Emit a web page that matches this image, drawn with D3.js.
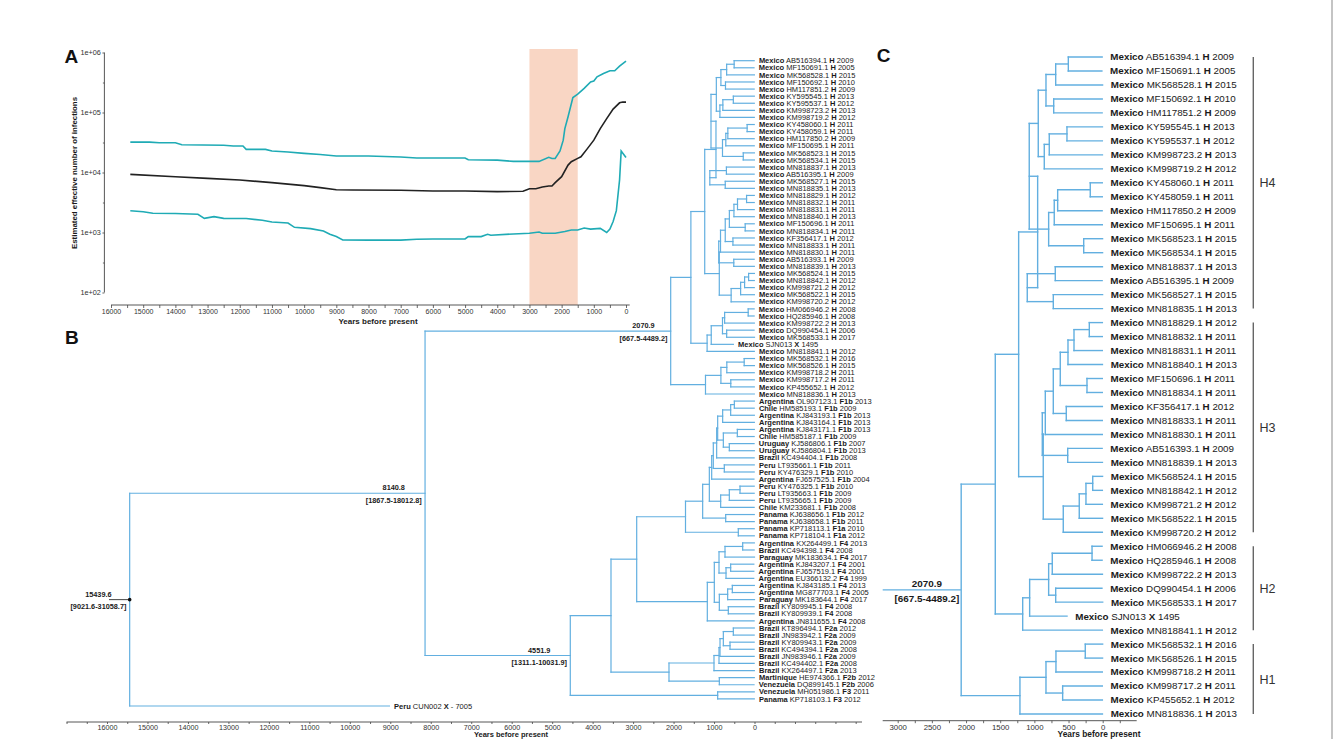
<!DOCTYPE html>
<html><head><meta charset="utf-8">
<script src="https://cdn.jsdelivr.net/npm/d3@7"></script>
<style>
body{margin:0;background:#fff}
svg{display:block;font-family:"Liberation Sans",Arial,Helvetica,sans-serif}
text{white-space:pre}
</style>
</head><body>
<svg id="chart" width="1336" height="739"></svg>
<script>
// ---------- Panel A: skyline (years before present, effective number of infections)
const medianYears = [15400,14000,13000,12000,11000,10000,9500,9000,8500,7000,6000,5000,4000,3200,3000,2800,2600,2400,2300,2200,2000,1800,1700,1500,1400,1200,1000,800,600,400,200,100,0];
const medianValues = [9310,8520,7990,7500,6770,6040,5590,5170,5100,5050,4930,4930,4800,4870,5370,5370,5730,5960,5960,6770,8520,13300,15100,17200,18300,25000,34600,54000,79000,114000,145000,150000,149000];
const upperYears = [15400,14800,14500,14000,13800,12500,12200,11900,11800,11200,11000,10500,10000,9500,9000,8000,7000,6500,5000,4900,4000,3500,3000,2700,2400,2300,2200,2050,1950,1900,1800,1650,1500,1300,1100,1000,900,700,500,350,200,0];
const upperValues = [32100,32100,31300,31300,29000,28400,27600,27600,24300,24300,22800,21900,20800,19900,18800,18800,18100,17400,17400,16300,16100,15300,15300,15300,17900,17100,17100,22800,34600,53900,85100,178000,202000,252000,324000,334000,393000,447000,496000,496000,592000,718000];
const lowerYears = [15400,15000,14700,14000,13300,13100,12800,12500,11800,11300,11000,10500,10300,9800,9400,9200,9000,8800,8000,7000,6500,6000,5000,4900,4500,4300,4200,3500,3000,2700,2600,2200,1900,1700,1500,1300,1100,800,600,500,400,300,200,150,0];
const lowerValues = [2310,2220,2090,2070,2010,1720,1840,1720,1710,1600,1500,1440,1220,1160,1060,934,855,752,745,745,771,780,780,855,855,934,900,946,970,1020,970,970,1040,1100,1100,1190,1140,1170,1000,1140,1520,2310,7500,22800,17800];
const shadeYears = [3000,1500];
const yTickValues = [1e2,1e3,1e4,1e5,1e6];

// ---------- Tips (country, accession, genotype, sampling year)
const tips = [
["Mexico","AB516394.1","H",2009],["Mexico","MF150691.1","H",2005],["Mexico","MK568528.1","H",2015],
["Mexico","MF150692.1","H",2010],["Mexico","HM117851.2","H",2009],["Mexico","KY595545.1","H",2013],
["Mexico","KY595537.1","H",2012],["Mexico","KM998723.2","H",2013],["Mexico","KM998719.2","H",2012],
["Mexico","KY458060.1","H",2011],["Mexico","KY458059.1","H",2011],["Mexico","HM117850.2","H",2009],
["Mexico","MF150695.1","H",2011],["Mexico","MK568523.1","H",2015],["Mexico","MK568534.1","H",2015],
["Mexico","MN818837.1","H",2013],["Mexico","AB516395.1","H",2009],["Mexico","MK568527.1","H",2015],
["Mexico","MN818835.1","H",2013],["Mexico","MN818829.1","H",2012],["Mexico","MN818832.1","H",2011],
["Mexico","MN818831.1","H",2011],["Mexico","MN818840.1","H",2013],["Mexico","MF150696.1","H",2011],
["Mexico","MN818834.1","H",2011],["Mexico","KF356417.1","H",2012],["Mexico","MN818833.1","H",2011],
["Mexico","MN818830.1","H",2011],["Mexico","AB516393.1","H",2009],["Mexico","MN818839.1","H",2013],
["Mexico","MK568524.1","H",2015],["Mexico","MN818842.1","H",2012],["Mexico","KM998721.2","H",2012],
["Mexico","MK568522.1","H",2015],["Mexico","KM998720.2","H",2012],["Mexico","HM066946.2","H",2008],
["Mexico","HQ285946.1","H",2008],["Mexico","KM998722.2","H",2013],["Mexico","DQ990454.1","H",2006],
["Mexico","MK568533.1","H",2017],["Mexico","SJN013","X",1495],["Mexico","MN818841.1","H",2012],
["Mexico","MK568532.1","H",2016],["Mexico","MK568526.1","H",2015],["Mexico","KM998718.2","H",2011],
["Mexico","KM998717.2","H",2011],["Mexico","KP455652.1","H",2012],["Mexico","MN818836.1","H",2013],
["Argentina","OL907123.1","F1b",2013],["Chile","HM585193.1","F1b",2009],["Argentina","KJ843193.1","F1b",2013],
["Argentina","KJ843164.1","F1b",2013],["Argentina","KJ843171.1","F1b",2013],["Chile","HM585187.1","F1b",2009],
["Uruguay","KJ586806.1","F1b",2007],["Uruguay","KJ586804.1","F1b",2013],["Brazil","KC494404.1","F1b",2008],
["Peru","LT935661.1","F1b",2011],["Peru","KY476329.1","F1b",2010],["Argentina","FJ657525.1","F1b",2004],
["Peru","KY476325.1","F1b",2010],["Peru","LT935663.1","F1b",2009],["Peru","LT935665.1","F1b",2009],
["Chile","KM233681.1","F1b",2008],["Panama","KJ638656.1","F1b",2012],["Panama","KJ638658.1","F1b",2011],
["Panama","KP718113.1","F1a",2010],["Panama","KP718104.1","F1a",2012],["Argentina","KX264499.1","F4",2013],
["Brazil","KC494398.1","F4",2008],["Paraguay","MK183634.1","F4",2017],["Argentina","KJ843207.1","F4",2001],
["Argentina","FJ657519.1","F4",2001],["Argentina","EU366132.2","F4",1999],["Argentina","KJ843185.1","F4",2013],
["Argentina","MG877703.1","F4",2005],["Paraguay","MK183644.1","F4",2017],["Brazil","KY809945.1","F4",2008],
["Brazil","KY809939.1","F4",2008],["Argentina","JN811655.1","F4",2008],["Brazil","KT896494.1","F2a",2012],
["Brazil","JN983942.1","F2a",2009],["Brazil","KY809943.1","F2a",2009],["Brazil","KC494394.1","F2a",2008],
["Brazil","JN983946.1","F2a",2009],["Brazil","KC494402.1","F2a",2008],["Brazil","KX264497.1","F2a",2013],
["Martinique","HE974366.1","F2b",2012],["Venezuela","DQ899145.1","F2b",2006],["Venezuela","MH051986.1","F3",2011],
["Panama","KP718103.1","F3",2012],["Peru","CUN002","X",-7005]
];
const presentYear = 2017;

// ---------- Tree topology (tip numbers, internal node ages in years before present)
const cladeH4 = "((((((1,2)503,3)688,(4,5)717)830,(((6,7)523,8)782,9)855)943,((((10,11)182,12)659,13)709,(14,15)278)791)1075,((16,17)694,(18,19)723)1104)952";
const cladeH3 = "((((((((20,21)196,22)420,23)508,(24,25)230)621,(26,27)533)723,28)840,(29,30)512)884,((((31,32)146,33)245,34)343,35)577)870";
const cladeH2 = "(((((36,37)156,38)738,(39,40)688)791,41)1069,42)1171";
const cladeH1 = "((((43,44)255,45)684,(46,47)586)830,48)1211";
const cladeMexico = "(((" + cladeH4 + "," + cladeH3 + ")1230," + cladeH2 + ")1572," + cladeH1 + ")2070.9";
const cladeF1b = "(((((((((49,50)498,51)589,52)787,((53,54)424,(55,56)622)770)910,57)935,(58,59)746)1018,60)1058,(((61,62)358,63)622,64)836)1116,(65,66)712)1281";
const cladeF1 = "(" + cladeF1b + ",(67,68)400)1705";
const cladeF4 = "(((((69,70)292,71)729,((72,73)589,74)704)877,(((75,76)548,77)663,(78,79)647)869)993,80)1166";
const cladeF2 = "((((((81,82)523,(83,84)605)770,85)852,86)877,87)1001,(88,89)869)2113";
const cladeF3 = "(90,91)910";
const cladeSouth = "(((" + cladeF1 + "," + cladeF4 + ")2911," + cladeF2 + ")3546," + cladeF3 + ")4551.9";
const newickFull = "((" + cladeMexico + "," + cladeSouth + ")8140.8,92)15439.6";

const hpdAges = [15439.6, 8140.8, 4551.9, 2070.9];
const hpdTexts = ["[9021.6-31058.7]","[1867.5-18012.8]","[1311.1-10031.9]","[667.5-4489.2]"];

const groupNames = ["H4","H3","H2","H1"];
const groupFirst = [1,20,36,43];
const groupLast = [19,35,42,48];

// ---------- helpers
function parseNewick(s){
  let i = 0;
  function node(){
    if (s[i] === "("){
      i++;
      const ch = [node()];
      while (s[i] === ","){ i++; ch.push(node()); }
      i++;
      let num = "";
      while (i < s.length && /[0-9.]/.test(s[i])) num += s[i++];
      return {children: ch, age: +num};
    }
    let num = "";
    while (i < s.length && /[0-9]/.test(s[i])) num += s[i++];
    const tip = +num - 1;
    return {tip: tip, age: presentYear - tips[tip][3]};
  }
  return node();
}
function layout(n, yOf){
  if (n.children){
    n.children.forEach(c => layout(c, yOf));
    n.y = (n.children[0].y + n.children[n.children.length-1].y) / 2;
  } else n.y = yOf(n.tip);
}
function leaves(n, out=[]){ if (n.children) n.children.forEach(c=>leaves(c,out)); else out.push(n); return out; }
function internals(n, out=[]){ if (n.children){ out.push(n); n.children.forEach(c=>internals(c,out)); } return out; }

const treeColor = "#62afe0";
function drawTree(g, root, xS, w){
  const segs = [];
  (function walk(n){
    if (!n.children) return;
    const x = xS(n.age);
    segs.push([x, n.children[0].y, x, n.children[n.children.length-1].y]);
    n.children.forEach(c => { segs.push([x, c.y, xS(c.age), c.y]); walk(c); });
  })(root);
  g.selectAll(null).data(segs).join("line")
    .attr("x1", d=>d[0]).attr("y1", d=>d[1]).attr("x2", d=>d[2]).attr("y2", d=>d[3])
    .attr("stroke", treeColor).attr("stroke-width", w).attr("stroke-linecap","square");
}
function yearText(y){ return y < 0 ? "- " + (-y) : String(y); }
function drawTipLabels(g, root, xS, fs, off){
  const lv = leaves(root);
  const t = g.selectAll(null).data(lv).join("text")
    .attr("x", d => xS(d.age) + off).attr("y", d => d.y).attr("dy","0.35em")
    .attr("font-size", fs).attr("fill","#1a1a1a");
  t.append("tspan").attr("font-weight","bold").text(d => tips[d.tip][0]);
  t.append("tspan").text(d => " " + tips[d.tip][1] + " ");
  t.append("tspan").attr("font-weight","bold").text(d => tips[d.tip][2]);
  t.append("tspan").text(d => " " + yearText(tips[d.tip][3]));
}
function drawNodeLabels(g, root, xS, fs, gap, upOff, downOff){
  internals(root).forEach(n => {
    const k = hpdAges.indexOf(n.age);
    if (k < 0) return;
    const x = xS(n.age) - gap;
    const br = g.append("text").attr("x", x).attr("y", n.y + downOff).attr("text-anchor","end")
      .attr("font-size", fs).attr("font-weight","bold").attr("fill","#1a1a1a").text(hpdTexts[k]);
    const w = br.node().getComputedTextLength();
    g.append("text").attr("x", x - w/2).attr("y", n.y - upOff).attr("text-anchor","middle")
      .attr("font-size", fs).attr("font-weight","bold").attr("fill","#1a1a1a").text(n.age.toFixed(1));
  });
}
function styleAxis(g, fs){
  g.select(".domain").remove();
  g.selectAll(".tick line").attr("stroke","#444").attr("stroke-width",0.8);
  g.selectAll(".tick text").attr("font-size", fs).attr("fill","#333").attr("font-family","Liberation Sans, Arial, sans-serif");
}

const svg = d3.select("#chart");

// right frame line
svg.append("line").attr("x1",1332).attr("x2",1332).attr("y1",0).attr("y2",739).attr("stroke","#c4c4c4").attr("stroke-width",2);

// ================= Panel A =================
const xA = d3.scaleLinear().domain([16000,0]).range([111,626]);
const yA = d3.scaleLog().domain([1e2,1e6]).range([292.5,52.5]);
const gA = svg.append("g");
gA.append("rect").attr("x", xA(shadeYears[0])).attr("width", xA(shadeYears[1]) - xA(shadeYears[0]))
  .attr("y", 49).attr("height", 305 - 49).attr("fill","#f9d6c4");

const lineA = d3.line().x(d=>xA(d[0])).y(d=>yA(d[1]));
gA.append("path").datum(upperYears.map((y,i)=>[y,upperValues[i]])).attr("d", lineA)
  .attr("fill","none").attr("stroke","#1fabb5").attr("stroke-width",1.6);
gA.append("path").datum(lowerYears.map((y,i)=>[y,lowerValues[i]])).attr("d", lineA)
  .attr("fill","none").attr("stroke","#1fabb5").attr("stroke-width",1.6);
gA.append("path").datum(medianYears.map((y,i)=>[y,medianValues[i]])).attr("d", lineA)
  .attr("fill","none").attr("stroke","#222").attr("stroke-width",1.6);

// y axis
gA.append("line").attr("x1",104.4).attr("x2",104.4).attr("y1",yA(1e6)).attr("y2",yA(1e2)).attr("stroke","#444").attr("stroke-width",0.9);
const yAx = gA.append("g").attr("transform","translate(104.4,0)")
  .call(d3.axisLeft(yA).tickValues(yTickValues).tickSize(2).tickPadding(1.5)
    .tickFormat(d => "1e+" + String(Math.round(Math.log10(d))).padStart(2,"0")));
styleAxis(yAx, 7.3);
const yAxMinor = gA.append("g").attr("transform","translate(104.4,0)")
  .call(d3.axisLeft(yA).tickValues(yTickValues.slice(0,4).map(v=>v*Math.sqrt(10))).tickSize(1.5).tickFormat(""));
styleAxis(yAxMinor, 7);

// x axis
gA.append("line").attr("x1",111).attr("x2",629.7).attr("y1",305).attr("y2",305).attr("stroke","#444").attr("stroke-width",0.9);
const xAx = gA.append("g").attr("transform","translate(0,305)")
  .call(d3.axisBottom(xA).tickValues(d3.range(16000,-1,-500)).tickSize(3).tickPadding(1.5)
    .tickFormat(d => d % 1000 === 0 ? d : ""));
styleAxis(xAx, 7);
gA.append("text").attr("x",378).attr("y",323.8).attr("text-anchor","middle").attr("font-size",8)
  .attr("font-weight","bold").attr("fill","#1a1a1a").text("Years before present");
gA.append("text").attr("transform","translate(77,173) rotate(-90)").attr("text-anchor","middle")
  .attr("font-size",7.9).attr("font-weight","bold").attr("fill","#1a1a1a").text("Estimated effective number of infections");

// ================= Panel B =================
const xB = d3.scaleLinear().domain([16000,0]).range([107,754.5]);
const yB = d3.scaleLinear().domain([0,91]).range([60.7,706]);
const treeB = parseNewick(newickFull);
layout(treeB, i => yB(i));
const gB = svg.append("g");
// root stub and dot
gB.append("line").attr("x1",109).attr("x2",xB(treeB.age)).attr("y1",treeB.y).attr("y2",treeB.y).attr("stroke","#444").attr("stroke-width",1);
drawTree(gB, treeB, xB, 1.2);
gB.append("circle").attr("cx", xB(treeB.age)).attr("cy", treeB.y).attr("r",1.8).attr("fill","#111");
drawTipLabels(gB, treeB, xB, 7.5, 4.7);
drawNodeLabels(gB, treeB, xB, 7.3, 3.3, 3.0, 9.5);

gB.append("line").attr("x1",xB(17000)).attr("x2",862).attr("y1",722).attr("y2",722).attr("stroke","#444").attr("stroke-width",0.9);
const xBx = gB.append("g").attr("transform","translate(0,722)")
  .call(d3.axisBottom(xB).tickValues(d3.range(17000,-2501,-500)).tickSize(2).tickPadding(1)
    .tickFormat(d => (d % 1000 === 0 && d <= 16000 && d >= 0) ? d : ""));
styleAxis(xBx, 7.2);
gB.append("text").attr("x",511).attr("y",737.2).attr("text-anchor","middle").attr("font-size",7.5)
  .attr("font-weight","bold").attr("fill","#1a1a1a").text("Years before present");

// ================= Panel C =================
const xC = d3.scaleLinear().domain([3000,0]).range([897.7,1102.7]);
const yC = d3.scaleLinear().domain([0,47]).range([57,714]);
const treeC = parseNewick(cladeMexico);
layout(treeC, i => yC(i));
const gC = svg.append("g");
gC.append("line").attr("x1",882.7).attr("x2",xC(treeC.age)).attr("y1",treeC.y).attr("y2",treeC.y).attr("stroke",treeColor).attr("stroke-width",1.4);
drawTree(gC, treeC, xC, 1.4);
drawTipLabels(gC, treeC, xC, 9.8, 8.2);
drawNodeLabels(gC, treeC, xC, 9.9, 2, 3.2, 11.8);

gC.append("line").attr("x1",882.7).attr("x2",1136.7).attr("y1",720.7).attr("y2",720.7).attr("stroke","#444").attr("stroke-width",0.9);
const xCx = gC.append("g").attr("transform","translate(0,720.7)")
  .call(d3.axisBottom(xC).tickValues(d3.range(3000,-251,-250)).tickSize(2.5).tickPadding(1.5)
    .tickFormat(d => (d % 500 === 0 && d >= 0) ? d : ""));
styleAxis(xCx, 7.8);
gC.append("text").attr("x",1099).attr("y",737.2).attr("text-anchor","middle").attr("font-size",8.4)
  .attr("font-weight","bold").attr("fill","#1a1a1a").text("Years before present");

// genotype group brackets
groupNames.forEach((name, k) => {
  const y1 = yC(groupFirst[k]-1), y2 = yC(groupLast[k]-1);
  gC.append("line").attr("x1",1253.3).attr("x2",1253.3).attr("y1",y1).attr("y2",y2).attr("stroke","#666").attr("stroke-width",1.4);
  gC.append("text").attr("x",1259.5).attr("y",(y1+y2)/2).attr("dy","0.36em").attr("font-size",12.5)
    .attr("fill","#333").text(name);
});

// panel letters
[["A",64.4,62.7],["B",65,344],["C",876.7,61.7]].forEach(p => {
  svg.append("text").attr("x",p[1]).attr("y",p[2]).attr("font-size",19).attr("font-weight","bold").attr("fill","#111").text(p[0]);
});
</script>
</body></html>
